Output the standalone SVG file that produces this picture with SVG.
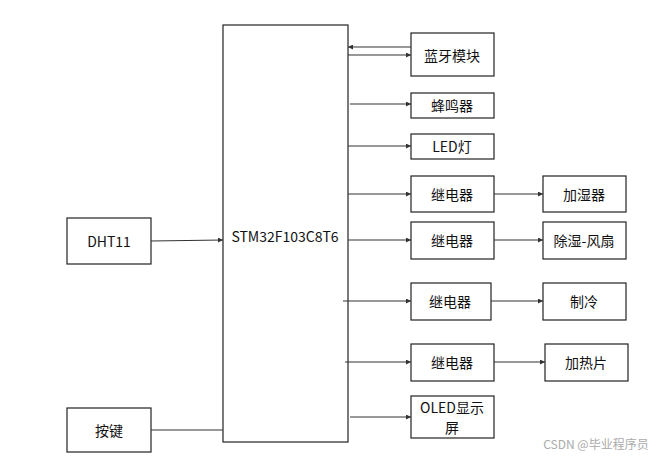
<svg xmlns="http://www.w3.org/2000/svg" width="666" height="458" viewBox="0 0 666 458">
<style>
rect{fill:#fff;stroke:#222;stroke-width:1.2}
text{font-family:"Noto Sans CJK SC","Noto Sans",sans-serif;font-size:14px;fill:#111;text-anchor:middle;dominant-baseline:central}
.c line{stroke:#333;stroke-width:1.1;marker-end:url(#a)}
</style>
<defs><marker id="a" viewBox="0 0 6 6" refX="6" refY="3" markerWidth="5" markerHeight="5" orient="auto" markerUnits="userSpaceOnUse"><path d="M0,0L6,3L0,6z" fill="#333"/></marker></defs>
<rect width="666" height="458" style="stroke:none"/>
<g id="mcu"><rect x="223" y="25" width="125" height="417"/><text x="285" y="236">STM32F103C8T6</text></g>
<g id="bt"><rect x="411" y="33" width="83" height="43"/><text x="452" y="55">蓝牙模块</text></g>
<g id="buzz"><rect x="411" y="93" width="83" height="25"/><text x="452" y="105">蜂鸣器</text></g>
<g id="led"><rect x="411" y="134" width="83" height="25"/><text x="452" y="146">LED灯</text></g>
<g id="r1"><rect x="411" y="176" width="83" height="36"/><text x="452" y="194">继电器</text></g>
<g id="hum"><rect x="543" y="176" width="83" height="36"/><text x="584" y="194">加湿器</text></g>
<g id="r2"><rect x="411" y="222" width="83" height="37"/><text x="452" y="240">继电器</text></g>
<g id="fan"><rect x="543" y="222" width="83" height="37"/><text x="584" y="240">除湿-风扇</text></g>
<g id="r3"><rect x="411" y="283" width="80" height="37"/><text x="450" y="301">继电器</text></g>
<g id="cool"><rect x="543" y="283" width="83" height="37"/><text x="584" y="301">制冷</text></g>
<g id="r4"><rect x="411" y="344" width="83" height="37"/><text x="452" y="362">继电器</text></g>
<g id="heat"><rect x="545" y="344" width="83" height="37"/><text x="586" y="362">加热片</text></g>
<g id="oled"><rect x="411" y="396" width="83" height="42"/><text x="452" y="407">OLED显示</text><text x="452" y="427">屏</text></g>
<g id="dht"><rect x="67" y="218" width="84" height="46"/><text x="109" y="241">DHT11</text></g>
<g id="key"><rect x="67" y="408" width="84" height="44"/><text x="109" y="430">按键</text></g>
<g class="c">
<line x1="411" y1="47" x2="348" y2="47"/>
<line x1="348" y1="55" x2="411" y2="55"/>
<line x1="350" y1="104" x2="411" y2="104"/>
<line x1="348" y1="146" x2="411" y2="146"/>
<line x1="348" y1="194" x2="411" y2="194"/>
<line x1="494" y1="194" x2="543" y2="194"/>
<line x1="348" y1="240" x2="411" y2="240"/>
<line x1="494" y1="240" x2="543" y2="240"/>
<line x1="343" y1="301" x2="411" y2="301"/>
<line x1="491" y1="301" x2="543" y2="301"/>
<line x1="345" y1="362" x2="411" y2="362"/>
<line x1="494" y1="362" x2="545" y2="362"/>
<line x1="350" y1="417" x2="411" y2="417"/>
<line x1="151" y1="241" x2="223" y2="240"/>
<line x1="151" y1="430" x2="223" y2="430" style="marker-end:none"/>
</g>
<text x="596" y="443" style="font-size:12px;fill:#aaa">CSDN @毕业程序员</text>
</svg>
